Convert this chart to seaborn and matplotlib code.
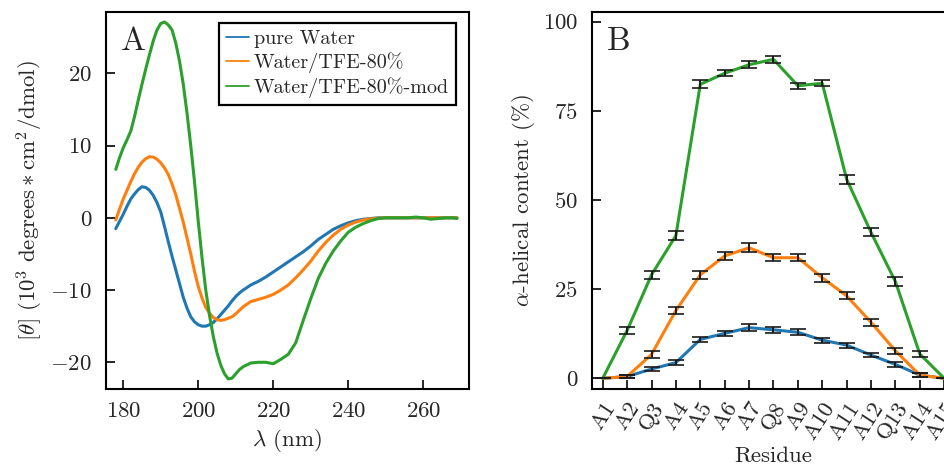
import numpy as np
import pandas as pd
import matplotlib
matplotlib.use("Agg")
import matplotlib.pyplot as plt
import seaborn as sns

sns.set_style("ticks")
plt.rcParams.update({
    "font.family": "serif",
    "font.serif": ["cmr10", "DejaVu Serif"],
    "mathtext.fontset": "cm",
    "axes.formatter.use_mathtext": True,
    "axes.unicode_minus": True,
    "axes.linewidth": 1.5,
    "xtick.direction": "in",
    "ytick.direction": "in",
    "xtick.major.size": 6.5,
    "ytick.major.size": 6.5,
    "xtick.major.width": 1.4,
    "ytick.major.width": 1.4,
    "xtick.major.pad": 9,
    "ytick.major.pad": 10,
    "font.size": 16.5,
    "lines.solid_joinstyle": "round",
})

# ---- Panel A: CD spectra (1 nm steps up to 212 nm, 2 nm steps after) ----
wavelength = list(range(178, 213)) + list(range(214, 270, 2)) + [269]
theta_water = [-1.5, -0.5, 0.5, 1.6, 2.6, 3.3, 3.9, 4.3, 4.2, 3.8,
               3.1, 2.1, 0.8, -1.2, -3.3, -5.3, -7.2, -9.1, -11.0, -12.5,
               -13.7, -14.4, -14.8, -15.0, -15.0, -14.8, -14.5, -14.0, -13.4, -12.8,
               -12.2, -11.5, -10.9, -10.4, -10.0,
               -9.3, -8.8, -8.2, -7.5, -6.8, -6.1, -5.4, -4.7, -3.9, -3.0,
               -2.3, -1.6, -1.1, -0.7, -0.4, -0.2, -0.1, 0.0,
               0.0, 0.0, 0.0, 0.0, 0.0, 0.0, 0.0, 0.0, 0.0, 0.0, 0.0]
theta_tfe = [-0.3, 1.2, 2.6, 3.8, 5.0, 6.1, 7.0, 7.7, 8.2, 8.45,
             8.4, 8.1, 7.6, 6.9, 6.0, 4.7, 3.2, 1.3, -0.6, -2.8,
             -5.0, -7.4, -9.5, -11.1, -12.4, -13.2, -13.8, -14.1, -14.2, -14.1,
             -13.9, -13.7, -13.3, -12.8, -12.3,
             -11.6, -11.3, -11.0, -10.6, -10.0, -9.3, -8.3, -7.2, -6.0, -4.6,
             -3.4, -2.4, -1.6, -1.0, -0.6, -0.3, -0.15, -0.05,
             0.0, 0.0, 0.0, 0.0, 0.0, 0.0, 0.0, 0.0, 0.0, 0.0, 0.0]
theta_tfe_mod = [6.7, 8.3, 9.7, 10.8, 12.0, 14.0, 16.3, 18.5, 20.6, 22.6,
                 24.5, 26.0, 26.9, 27.1, 26.7, 26.0, 24.2, 21.7, 18.5, 14.5,
                 10.0, 5.0, -0.5, -5.5, -10.0, -13.5, -16.4, -18.7, -20.4, -21.6,
                 -22.3, -22.2, -21.6, -21.0, -20.6,
                 -20.1, -20.0, -20.0, -20.2, -19.6, -18.9, -17.3, -14.2, -11.2, -8.4,
                 -6.3, -4.6, -3.2, -2.0, -1.3, -0.8, -0.4, -0.1,
                 0.0, 0.0, 0.0, 0.0, 0.1, 0.0, -0.2, -0.1, 0.0, 0.0, -0.1]
conditions = ["pure Water", "Water/TFE-80%", "Water/TFE-80%-mod"]

# ---- Panel B: per-residue helicity ----
residues = ["A1", "A2", "Q3", "A4", "A5", "A6", "A7", "Q8", "A9", "A10",
            "A11", "A12", "Q13", "A14", "A15"]
helix_water = [0.0, 0.5, 2.6, 4.4, 10.9, 12.6, 14.2, 13.6, 12.9, 10.7,
               9.3, 6.5, 3.9, 0.9, 0.0]
helix_water_err = [0.0, 0.5, 0.5, 0.6, 0.8, 0.8, 0.9, 0.8, 0.8, 0.7,
                   0.7, 0.6, 0.6, 0.5, 0.0]
helix_tfe = [0.0, 0.5, 6.7, 19.0, 29.0, 34.3, 36.6, 33.8, 33.8, 28.2,
             23.1, 15.7, 7.7, 0.9, 0.0]
helix_tfe_err = [0.0, 0.5, 0.9, 1.1, 1.1, 1.1, 1.2, 1.0, 1.0, 1.1,
                 1.0, 1.0, 0.9, 0.5, 0.0]
helix_tfe_mod = [0.0, 13.4, 29.0, 40.0, 82.4, 85.5, 87.9, 89.4, 82.0, 82.7,
                 55.8, 40.9, 27.1, 6.8, 0.0]
helix_tfe_mod_err = [0.0, 0.9, 1.1, 1.2, 1.1, 0.9, 0.9, 0.9, 0.9, 0.9,
                     1.2, 1.1, 1.2, 0.9, 0.0]

palette = sns.color_palette("tab10", 3)

cd = pd.DataFrame({
    "wavelength": wavelength * 3,
    "theta": theta_water + theta_tfe + theta_tfe_mod,
    "condition": sum([[c] * len(wavelength) for c in conditions], []),
})

fig = plt.figure(figsize=(9.44, 4.72), dpi=100)
axA = fig.add_axes([0.1123, 0.1758, 0.3845, 0.799])
axB = fig.add_axes([0.6271, 0.1758, 0.3845, 0.799])

sns.lineplot(data=cd, x="wavelength", y="theta", hue="condition",
             hue_order=conditions, palette=palette, estimator=None,
             sort=False, linewidth=2.2, ax=axA)
axA.set_xlim(175.4, 272.2)
axA.set_ylim(-23.7, 28.5)
axA.set_xticks([180, 200, 220, 240, 260])
axA.set_yticks([-20, -10, 0, 10, 20])
axA.set_xlabel(r"$\lambda$ (nm)")
axA.set_ylabel(r"$[\theta]\ (10^3\ \mathrm{degrees} * \mathrm{cm}^2/\mathrm{dmol})$")
axA.text(0.04, 0.96, "A", transform=axA.transAxes, fontsize=24,
         va="top", ha="left")
leg = axA.legend(loc="upper right", bbox_to_anchor=(0.965, 0.97),
                 fontsize=14.5, frameon=True, fancybox=False,
                 edgecolor="black", framealpha=1, handlelength=1.15,
                 handletextpad=0.25, borderpad=0.35, labelspacing=0.2,
                 borderaxespad=0.0)
leg.get_frame().set_linewidth(1.6)
for handle in leg.get_lines():
    handle.set_linewidth(1.3)

pos = np.arange(len(residues))
helix = pd.DataFrame({
    "pos": np.tile(pos, 3),
    "helix": helix_water + helix_tfe + helix_tfe_mod,
    "condition": sum([[c] * len(residues) for c in conditions], []),
})
sns.lineplot(data=helix, x="pos", y="helix", hue="condition",
             hue_order=conditions, palette=palette, estimator=None,
             sort=False, linewidth=2.2, legend=False, ax=axB)
for vals, errs in [(helix_water, helix_water_err), (helix_tfe, helix_tfe_err),
                   (helix_tfe_mod, helix_tfe_mod_err)]:
    axB.errorbar(pos, vals, yerr=errs, fmt="none", ecolor="#1a1a1a",
                 elinewidth=1.4, capsize=6, capthick=1.2, zorder=5)
axB.set_xlim(-0.44, 14.44)
axB.set_ylim(-3, 102.7)
axB.set_xticks(pos)
axB.set_xticklabels(residues, rotation=57, ha="right", rotation_mode="anchor",
                    fontsize=16.5)
axB.tick_params(axis="x", pad=7)
axB.set_yticks([0, 25, 50, 75, 100])
axB.set_xlabel("Residue", labelpad=2)
axB.set_ylabel(r"$\alpha$-helical content (%)")
axB.text(0.04, 0.96, "B", transform=axB.transAxes, fontsize=24,
         va="top", ha="left")

for ax in (axA, axB):
    for side in ("top", "right", "left", "bottom"):
        ax.spines[side].set_visible(True)
        ax.spines[side].set_color("black")
    ax.tick_params(which="both", top=False, right=False)

fig.savefig("out.png", dpi=100)
